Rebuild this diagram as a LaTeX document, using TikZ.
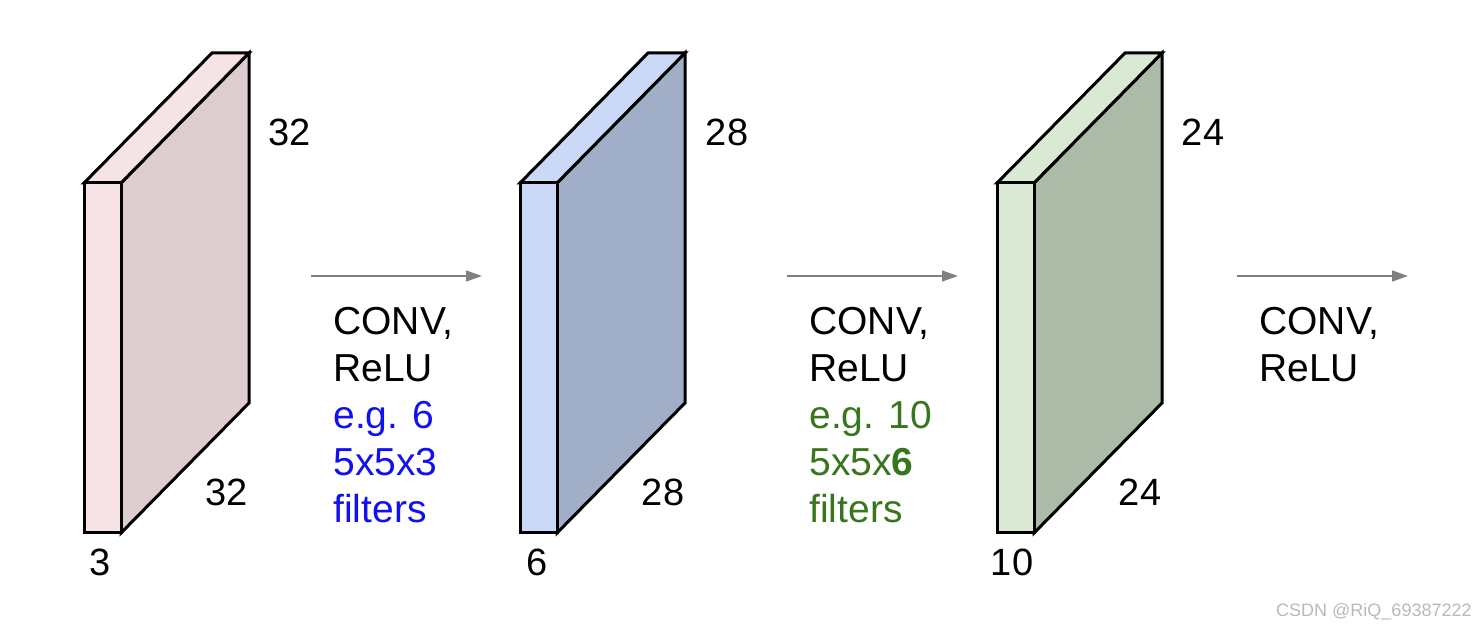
\documentclass[tikz,border=0pt]{standalone}
\usepackage{fontspec}
\setmainfont{Liberation Sans}
\usetikzlibrary{arrows.meta}

\definecolor{pinkfront}{HTML}{F5E3E5}
\definecolor{pinkback}{HTML}{DDCDCF}
\definecolor{bluefront}{HTML}{C9D9F7}
\definecolor{blueback}{HTML}{A0AEC8}
\definecolor{greenfront}{HTML}{D9E9D3}
\definecolor{greenback}{HTML}{ACBBA8}
\definecolor{convblue}{HTML}{1010F0}
\definecolor{convgreen}{HTML}{38761D}
\definecolor{arrowgray}{HTML}{808080}

\begin{document}
\begin{tikzpicture}[x=0.5pt,y=0.5pt]

  % one unit = one pixel of the slide, y counted from the bottom
  \useasboundingbox (0,0) rectangle (1484,631);

  \tikzset{
    face/.style={draw=black, line width=1.5pt, line join=miter},
    dimlabel/.style={font=\fontsize{19}{22}\selectfont, inner sep=0pt},
    flow/.style={draw=arrowgray, line width=0.8pt, -{Triangle[length=8pt,width=5.5pt]}},
    convtext/.style={anchor=north west, align=left, inner sep=0pt,
      font=\fontsize{19.5}{23.5}\selectfont}
  }

  % Three volumes: front face 37 wide, depth offset (128,130)
  \foreach \x/\fr/\bk in {84/pinkfront/pinkback, 520/bluefront/blueback, 997/greenfront/greenback} {
    \filldraw[face, fill=\bk] (\x+37,98) -- (\x+165,228) -- (\x+165,578) -- (\x+37,448) -- cycle;
    \filldraw[face, fill=\fr] (\x,448) -- (\x+128,578) -- (\x+165,578) -- (\x+37,448) -- cycle;
    \filldraw[face, fill=\fr] (\x,98) rectangle (\x+37,448);
  }

  % Sizes of each volume: height, width, depth
  \node[dimlabel] (h1) at (290,499) {32};
  \node[dimlabel] (w1) at (227,139) {32};
  \node[dimlabel] (d1) at (100,69)  {3};
  \node[dimlabel] (h2) at (727,499) {28};
  \node[dimlabel] (w2) at (663,139) {28};
  \node[dimlabel] (d2) at (537,69)  {6};
  \node[dimlabel] (h3) at (1203,499) {24};
  \node[dimlabel] (w3) at (1140,139) {24};
  \node[dimlabel] (d3) at (1012,69)  {10};

  % Arrows between the volumes
  \coordinate (a1s) at (311,355);  \coordinate (a1e) at (482,355);
  \coordinate (a2s) at (787,355);  \coordinate (a2e) at (958,355);
  \coordinate (a3s) at (1237,355); \coordinate (a3e) at (1408,355);
  \draw[flow] (a1s) -- (a1e);
  \draw[flow] (a2s) -- (a2e);
  \draw[flow] (a3s) -- (a3e);

  % Layer descriptions under the arrows
  \node[convtext] (conv1) at (333,324) {CONV,\\ReLU\\
    \textcolor{convblue}{e.g. 6}\\\textcolor{convblue}{5x5x3}\\\textcolor{convblue}{filters}};
  \node[convtext] (conv2) at (809,324) {CONV,\\ReLU\\
    \textcolor{convgreen}{e.g. 10}\\\textcolor{convgreen}{5x5x\textbf{6}}\\\textcolor{convgreen}{filters}};
  \node[convtext] (conv3) at (1259,324) {CONV,\\ReLU};

  \node[anchor=east, inner sep=0pt, font=\fontsize{9}{9}\selectfont, text=gray!55]
    (mark) at (1472,19) {CSDN @RiQ\_69387222};

\end{tikzpicture}
\end{document}
